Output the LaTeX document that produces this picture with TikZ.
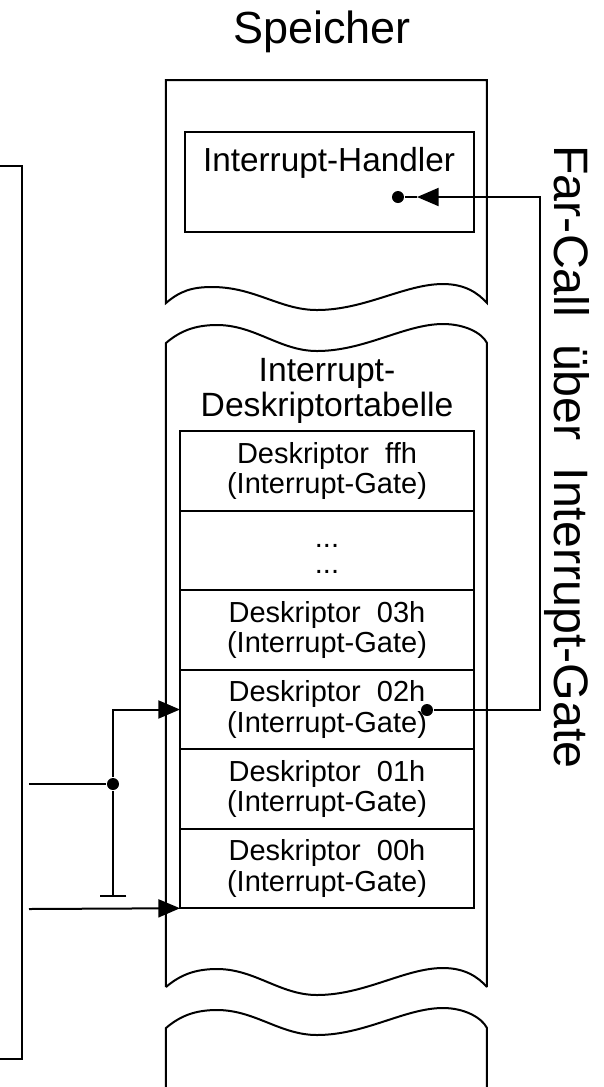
\documentclass[tikz,border=0pt]{standalone}
\usepackage{fontspec}
\setmainfont{Liberation Sans}
\usetikzlibrary{arrows.meta,positioning}

\begin{document}
\begin{tikzpicture}[x=0.3pt, y=-0.3pt, line width=0.6pt,
    rowbox/.style={rectangle, draw, minimum width=88.2pt, minimum height=23.85pt, inner sep=0pt, outer sep=0pt, align=center, font=\fontsize{8.7}{7.8}\selectfont},
    joint/.style={circle, fill, inner sep=0pt, minimum size=3.6pt},
    gatetip/.style={-{Triangle[length=6.5pt, width=5.4pt]}}
]
\useasboundingbox (0,0) rectangle (603,1087);

% Speicher
\node[font=\fontsize{13.5}{16}\selectfont, inner sep=0pt] (mem) at (322,32) {Speicher};
\draw (166,303) .. controls (180,291) and (192,287) .. (212,287) .. controls (255,287) and (280,310) .. (317,310) .. controls (365,310) and (405,284) .. (443,284) .. controls (465,284) and (478,293) .. (487,303) -- (487,80) -- (166,80) -- cycle;
\node[draw, minimum width=86.7pt, minimum height=30pt, outer sep=0pt] (handler) at (329.5,182) {};
\node[inner sep=0pt] (htext) at (329,163) {Interrupt-Handler};

% Deskriptortabelle
\draw (166,987) -- (166,343) .. controls (180,331) and (195,325) .. (217,325) .. controls (255,325) and (280,351) .. (317,351) .. controls (365,351) and (405,324) .. (443,324) .. controls (465,324) and (482,333) .. (487,343) -- (487,987);
\draw (166,987) .. controls (180,975) and (195,969) .. (217,969) .. controls (255,969) and (280,995) .. (317,995) .. controls (365,995) and (405,968) .. (443,968) .. controls (465,968) and (478,977) .. (487,987);
\node[align=center, inner sep=0pt, font=\fontsize{10.1}{9.2}\selectfont] (idt) at (327,391) {Interrupt-\\Deskriptortabelle};
\node[rowbox] (dff) at (327,471) {Deskriptor\ \ ffh\\(Interrupt-Gate)};
\node[rowbox, below=0pt of dff] (ddots) {\rule{0pt}{6pt}...\\...};
\node[rowbox, below=0pt of ddots] (d03) {Deskriptor\ \ 03h\\(Interrupt-Gate)};
\node[rowbox, below=0pt of d03] (d02) {Deskriptor\ \ 02h\\(Interrupt-Gate)};
\node[rowbox, below=0pt of d02] (d01) {Deskriptor\ \ 01h\\(Interrupt-Gate)};
\node[rowbox, below=0pt of d01] (d00) {Deskriptor\ \ 00h\\(Interrupt-Gate)};

% rest of memory
\draw (166,1100) -- (166,1028) .. controls (180,1016) and (195,1010) .. (217,1010) .. controls (255,1010) and (280,1035) .. (317,1035) .. controls (365,1035) and (405,1008) .. (443,1008) .. controls (465,1008) and (482,1018) .. (487,1028) -- (487,1100);

% Prozessor
\draw (-5,166) -- (22,166) -- (22,1059) -- (-5,1059);
\coordinate (in1) at (29,784);
\coordinate (in0) at (29,909);
\node[joint] (fork) at (113,784) {};
\coordinate (stop) at (113,897);
\draw (in1) -- (fork);
\draw[gatetip] (fork) |- (d02.west);
\draw[-{Bar[width=8pt]}] (fork) -- (stop);
\draw[gatetip] (in0) -- (d00.south west);

% Far-Call
\node[joint] (gdot) at (427,710) {};
\node[joint] (hdot) at (398,197) {};
\coordinate (up) at (540,197);
\coordinate (entry) at (417,197);
\draw[gatetip] (gdot) -| (up) -- (entry);
\draw (entry) -- (hdot);
\node[rotate=-90, inner sep=0pt, font=\fontsize{14.5}{17}\selectfont] (fcall) at (567,457) {Far-Call\ \ über\ \ Interrupt-Gate};

\end{tikzpicture}
\end{document}
